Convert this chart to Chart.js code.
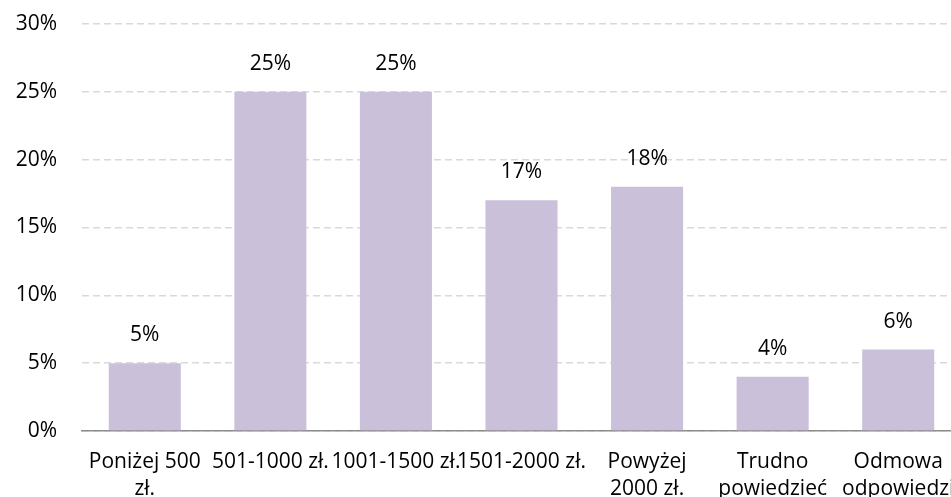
<!DOCTYPE html>
<html>
<head>
<meta charset="utf-8">
<script src="https://cdn.jsdelivr.net/npm/chart.js@4.4.1/dist/chart.umd.min.js"></script>
<style>
  html, body { margin: 0; padding: 0; overflow: hidden; background: #fff; }
  #wrap { width: 965px; height: 497px; }
</style>
</head>
<body>
<div id="wrap"><canvas id="chart" width="965" height="497"></canvas></div>
<script>
const categories = [
  ['Poniżej 500', 'zł.'],
  '501-1000 zł.',
  '1001-1500 zł.',
  '1501-2000 zł.',
  ['Powyżej', '2000 zł.'],
  ['Trudno', 'powiedzieć'],
  ['Odmowa', 'odpowiedzi']
];
const shares = [5, 25, 25, 17, 18, 4, 6];
const yTicks = [0, 5, 10, 15, 20, 25, 30];

const FONT = '"Open Sans", "DejaVu Sans", sans-serif';
const SIZE = 21;

// draw the percentage above each bar
const valueLabels = {
  id: 'valueLabels',
  afterDatasetsDraw(chart) {
    const ctx = chart.ctx;
    const meta = chart.getDatasetMeta(0);
    ctx.save();
    ctx.font = SIZE + 'px ' + FONT;
    ctx.fillStyle = '#000';
    ctx.textAlign = 'center';
    ctx.textBaseline = 'middle';
    meta.data.forEach((bar, i) => {
      ctx.fillText(shares[i] + '%', bar.x, bar.y - 28);
    });
    ctx.restore();
  }
};

new Chart(document.getElementById('chart').getContext('2d'), {
  type: 'bar',
  data: {
    labels: categories,
    datasets: [{
      data: shares,
      backgroundColor: '#CAC0DA',
      borderWidth: 0,
      categoryPercentage: 1,
      barPercentage: 0.574
    }]
  },
  options: {
    responsive: false,
    animation: false,
    layout: { padding: { top: 24, right: 4, left: 0, bottom: 0 } },
    scales: {
      x: {
        grid: { display: false, drawTicks: false },
        border: { display: true, color: '#8C8C8C', width: 1.5 },
        ticks: {
          color: '#000',
          font: { family: FONT, size: SIZE, lineHeight: 1.27 },
          padding: 18,
          maxRotation: 0,
          autoSkip: false
        },
        afterFit(scale) {
          scale.height = 66;
          scale.paddingLeft = 0;
          scale.paddingRight = 0;
        }
      },
      y: {
        min: 0,
        max: 30,
        afterBuildTicks(scale) { scale.ticks = yTicks.map(v => ({ value: v })); },
        grid: { color: '#D9D9D9', drawTicks: false, lineWidth: 1.5 },
        border: { display: false, dash: [7, 4] },
        ticks: {
          color: '#000',
          font: { family: FONT, size: SIZE },
          padding: 25,
          callback: v => v + '%'
        },
        afterFit(scale) {
          scale.width = 82;
          scale.paddingTop = 0;
          scale.paddingBottom = 0;
        }
      }
    },
    plugins: {
      legend: { display: false },
      tooltip: { enabled: false }
    }
  },
  plugins: [valueLabels]
});
</script>
</body>
</html>
